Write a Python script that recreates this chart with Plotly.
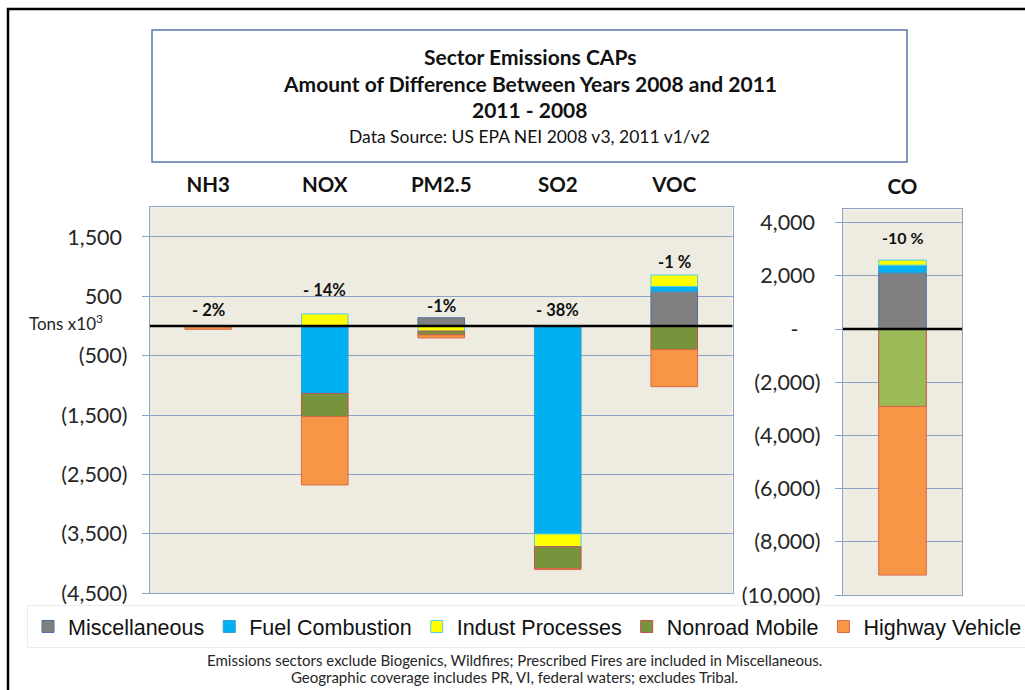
import plotly.graph_objects as go

# sector emission changes 2011 - 2008, thousand tons
pollutants = ["NH3", "NOX", "PM2.5", "SO2", "VOC"]
co_cat = ["CO"]
sectors = ["Miscellaneous", "Fuel Combustion", "Indust Processes", "Nonroad Mobile", "Highway Vehicle"]

misc = [None, None, 140, None, 580]
fuel = [None, -1135, None, -3500, 85]
indust = [None, 205, -85, -215, 195]
nonroad = [None, -390, -65, -370, -395]
highway = [-55, -1150, -50, -15, -625]

co_misc = [2110]
co_fuel = [290]
co_indust = [190]
co_nonroad = [-2910]
co_highway = [-6340]

pct_labels = ["- 2%", "- 14%", "-1%", "- 38%", "-1 %"]
co_pct_label = ["-10 %"]

left_tickvals = [-4500, -3500, -2500, -1500, -500, 500, 1500]
left_ticktext = ["(4,500)", "(3,500)", "(2,500)", "(1,500)", "(500)", "500\u00a0", "1,500\u00a0"]
right_tickvals = [-10000, -8000, -6000, -4000, -2000, 0, 2000, 4000]
right_ticktext = ["(10,000)", "(8,000)", "(6,000)", "(4,000)", "(2,000)", "-\u00a0\u00a0\u00a0\u00a0", "2,000\u00a0", "4,000\u00a0"]

title_lines = ["Sector Emissions CAPs", "Amount of Difference Between Years 2008 and 2011", "2011 - 2008"]
source_line = "Data Source: US EPA NEI 2008 v3, 2011 v1/v2"
footnotes = ["Emissions sectors exclude Biogenics, Wildfires; Prescribed Fires are included in Miscellaneous.",
             "Geographic coverage includes PR, VI, federal waters; excludes Tribal."]

fills = ["#808080", "#00B0F0", "#FFFF00", "#77933C", "#F79646"]
edges = ["#4F6FA0", "#3A9BD0", "#4BD0E8", "#C0504D", "#D9694A"]
co_fills = ["#808080", "#00B0F0", "#FFFF00", "#9BBB59", "#F79646"]

W, H = 1025, 690
GRID = "#8CA2C6"
TICKCOL = "#262626"
CAL = "Lato, 'Open Sans', sans-serif"

fig = go.Figure()

left_series = [misc, fuel, indust, nonroad, highway]
for name, vals, fc, ec in zip(sectors, left_series, fills, edges):
    fig.add_trace(go.Bar(x=pollutants, y=vals, name=name, marker=dict(color=fc, line=dict(color=ec, width=1)),
                         xaxis="x", yaxis="y"))

right_series = [co_misc, co_fuel, co_indust, co_nonroad, co_highway]
for name, vals, fc, ec in zip(sectors, right_series, co_fills, edges):
    fig.add_trace(go.Bar(x=co_cat, y=vals, name=name, showlegend=False,
                         marker=dict(color=fc, line=dict(color=ec, width=1)),
                         xaxis="x2", yaxis="y2"))

# percent labels sit above the positive stack of each bar
def pos_top(series, i):
    return sum(s[i] for s in series if s[i] is not None and s[i] > 0)

label_shift = [16, 24, 12, 16, 13]
annotations = []
for i, cat in enumerate(pollutants):
    annotations.append(dict(x=cat, y=pos_top(left_series, i), xref="x", yref="y", text=pct_labels[i],
                            showarrow=False, yshift=label_shift[i], yanchor="middle",
                            font=dict(family=CAL, size=16.5, color="#111", weight="bold")))
annotations.append(dict(x=co_cat[0], y=pos_top(right_series, 0), xref="x2", yref="y2", text=co_pct_label[0],
                        showarrow=False, yshift=23, yanchor="middle",
                        font=dict(family=CAL, size=16, color="#111", weight="bold")))

# title box text
title_y = [56, 83, 109]
for t, yy in zip(title_lines, title_y):
    annotations.append(dict(x=529.5 / W, y=1 - yy / H, xref="paper", yref="paper", text=t, showarrow=False,
                            xanchor="center", yanchor="middle",
                            font=dict(family=CAL, size=21, color="#111", weight="bold")))
annotations.append(dict(x=529.5 / W, y=1 - 136 / H, xref="paper", yref="paper", text=source_line,
                        showarrow=False, xanchor="center", yanchor="middle",
                        font=dict(family=CAL, size=17.5, color="#111")))

annotations.append(dict(x=27 / W, y=1 - 322 / H, xref="paper", yref="paper", text="Tons x10<sup>3</sup>",
                        showarrow=False, xanchor="left", yanchor="middle",
                        font=dict(family=CAL, size=17, color=TICKCOL)))

for t, yy in zip(footnotes, [660, 677]):
    annotations.append(dict(x=514 / W, y=1 - yy / H, xref="paper", yref="paper", text=t, showarrow=False,
                            xanchor="center", yanchor="middle",
                            font=dict(family=CAL, size=15, color=TICKCOL)))

shapes = [
    # outer frame
    dict(type="rect", xref="paper", yref="paper", x0=8 / W, x1=1.05, y0=-0.05, y1=1 - 9 / H,
         line=dict(color="black", width=2.5), layer="below"),
    # title box
    dict(type="rect", xref="paper", yref="paper", x0=152 / W, x1=907 / W, y0=1 - 162 / H, y1=1 - 30 / H,
         line=dict(color="#5676AC", width=1.5)),
    # zero lines
    dict(type="line", xref="x domain", yref="y", x0=0, x1=1, y0=0, y1=0, line=dict(color="black", width=2.5),
         layer="above"),
    dict(type="line", xref="x2 domain", yref="y2", x0=0, x1=1, y0=0, y1=0, line=dict(color="black", width=2.5),
         layer="above"),
]

axis_common = dict(showgrid=False, showline=True, mirror=True, linecolor=GRID, linewidth=1.3, zeroline=False,
                   automargin=False)
yaxis_common = dict(showgrid=True, gridcolor=GRID, gridwidth=1.3, showline=True, mirror=True, linecolor=GRID,
                    linewidth=1.3, zeroline=False, ticks="outside", ticklen=7, tickcolor=GRID, automargin=False,
                    tickfont=dict(family=CAL, size=21.5, color=TICKCOL), ticklabelstandoff=10)

fig.update_layout(
    width=W, height=H, autosize=False,
    margin=dict(l=0, r=0, t=0, b=0, autoexpand=False),
    paper_bgcolor="white",
    plot_bgcolor="#EEECE1",
    barmode="relative",
    bargap=0.6,
    xaxis=dict(domain=[150 / W, 732.5 / W], anchor="y", side="top", ticks="", ticklabelstandoff=6,
               tickfont=dict(family=CAL, size=20.5, color="#111", weight="bold"), **axis_common),
    yaxis=dict(domain=[1 - 593.3 / H, 1 - 207.3 / H], anchor="x", range=[-4500, 2000],
               tickvals=left_tickvals, ticktext=left_ticktext, **yaxis_common),
    xaxis2=dict(domain=[843 / W, 962 / W], anchor="y2", side="top", ticks="", ticklabelstandoff=6,
                tickfont=dict(family=CAL, size=20.5, color="#111", weight="bold"), **axis_common),
    yaxis2=dict(domain=[1 - 595 / H, 1 - 209.3 / H], anchor="x2", range=[-10000, 4500],
                tickvals=right_tickvals, ticktext=right_ticktext, **yaxis_common),
    legend=dict(orientation="h", xref="container", yref="container", x=27 / W, y=1 - 605 / H,
                xanchor="left", yanchor="top",
                traceorder="normal", bgcolor="white", bordercolor="#ECECEC", borderwidth=1,
                font=dict(family="'Liberation Sans', Arial, sans-serif", size=21.5, color="#111"),
                itemwidth=30),
    annotations=annotations,
    shapes=shapes,
)

# drop the browser's default page margin so the figure sits at the window origin
page_fix = "document.body.style.margin='0';document.documentElement.style.overflow='hidden';"
fig.write_html("out.html", post_script=page_fix, config={"displayModeBar": False})
